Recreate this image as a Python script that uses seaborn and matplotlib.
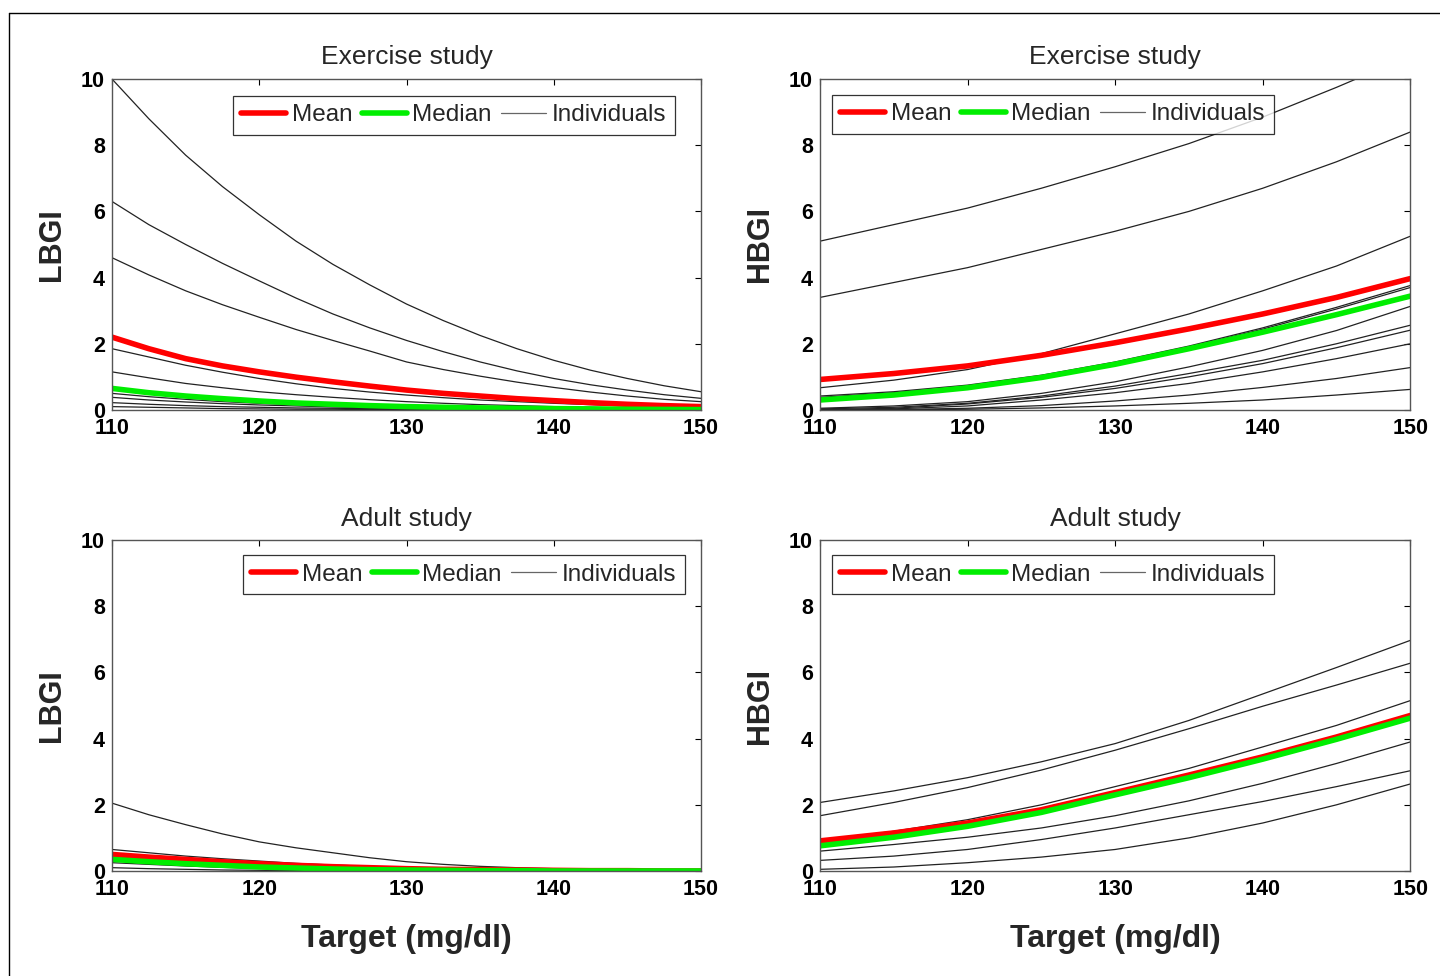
import numpy as np
import pandas as pd
import matplotlib.pyplot as plt
from matplotlib.lines import Line2D
import seaborn as sns

# target glucose grids (mg/dl)
target_fine = [110, 112.5, 115, 117.5, 120, 122.5, 125, 127.5, 130,
               132.5, 135, 137.5, 140, 142.5, 145, 147.5, 150]
target = [110, 115, 120, 125, 130, 135, 140, 145, 150]

# Exercise study - LBGI (on target_fine)
ex_lbgi_ind = [
    [10.0, 8.8, 7.7, 6.75, 5.9, 5.1, 4.4, 3.78, 3.2, 2.7, 2.25, 1.85, 1.5, 1.2, 0.95, 0.73, 0.55],
    [6.3, 5.6, 5.0, 4.43, 3.9, 3.38, 2.9, 2.48, 2.1, 1.76, 1.45, 1.18, 0.95, 0.76, 0.6, 0.46, 0.35],
    [4.6, 4.08, 3.6, 3.18, 2.8, 2.43, 2.1, 1.78, 1.45, 1.22, 1.02, 0.84, 0.68, 0.54, 0.42, 0.32, 0.25],
    [1.85, 1.6, 1.35, 1.14, 0.95, 0.79, 0.65, 0.54, 0.45, 0.37, 0.3, 0.25, 0.2, 0.16, 0.12, 0.09, 0.07],
    [1.15, 0.97, 0.8, 0.67, 0.55, 0.46, 0.38, 0.31, 0.25, 0.2, 0.16, 0.13, 0.1, 0.08, 0.06, 0.045, 0.03],
    [0.5, 0.4, 0.32, 0.25, 0.2, 0.16, 0.12, 0.09, 0.07, 0.05, 0.04, 0.03, 0.02, 0.015, 0.01, 0.005, 0.0],
    [0.38, 0.3, 0.24, 0.19, 0.15, 0.12, 0.09, 0.07, 0.05, 0.04, 0.03, 0.02, 0.01, 0.01, 0.0, 0.0, 0.0],
    [0.22, 0.17, 0.13, 0.1, 0.08, 0.06, 0.05, 0.04, 0.03, 0.02, 0.01, 0.01, 0.0, 0.0, 0.0, 0.0, 0.0],
    [0.1, 0.08, 0.06, 0.04, 0.03, 0.02, 0.02, 0.01, 0.01, 0.0, 0.0, 0.0, 0.0, 0.0, 0.0, 0.0, 0.0],
]
ex_lbgi_mean = [2.2, 1.85, 1.55, 1.33, 1.15, 0.99, 0.85, 0.72, 0.6, 0.5, 0.42, 0.34, 0.28, 0.22, 0.17, 0.13, 0.1]
ex_lbgi_median = [0.65, 0.52, 0.42, 0.34, 0.27, 0.21, 0.17, 0.13, 0.1, 0.08, 0.06, 0.05, 0.04, 0.03, 0.02, 0.015, 0.01]

# Exercise study - HBGI (on target)
ex_hbgi_ind = [
    [5.1, 5.6, 6.1, 6.7, 7.35, 8.05, 8.85, 9.75, 10.7],
    [3.4, 3.85, 4.3, 4.85, 5.4, 6.0, 6.7, 7.5, 8.4],
    [0.67, 0.9, 1.22, 1.7, 2.3, 2.9, 3.6, 4.35, 5.25],
    [0.42, 0.55, 0.75, 1.05, 1.45, 1.93, 2.48, 3.1, 3.76],
    [0.38, 0.52, 0.72, 1.02, 1.42, 1.9, 2.44, 3.05, 3.7],
    [0.05, 0.12, 0.25, 0.5, 0.85, 1.3, 1.8, 2.4, 3.13],
    [0.03, 0.08, 0.2, 0.42, 0.72, 1.1, 1.5, 2.0, 2.56],
    [0.0, 0.05, 0.18, 0.38, 0.65, 1.0, 1.4, 1.88, 2.41],
    [0.0, 0.03, 0.12, 0.3, 0.52, 0.8, 1.15, 1.55, 2.0],
    [0.0, 0.01, 0.05, 0.13, 0.27, 0.45, 0.68, 0.95, 1.28],
    [0.0, 0.0, 0.02, 0.06, 0.12, 0.2, 0.3, 0.45, 0.62],
]
ex_hbgi_mean = [0.92, 1.1, 1.33, 1.65, 2.03, 2.45, 2.9, 3.4, 3.97]
ex_hbgi_median = [0.3, 0.45, 0.67, 0.98, 1.38, 1.85, 2.35, 2.88, 3.44]

# Adult study - LBGI (on target_fine)
ad_lbgi_ind = [
    [2.05, 1.7, 1.4, 1.12, 0.88, 0.7, 0.55, 0.4, 0.28, 0.2, 0.14, 0.1, 0.07, 0.05, 0.03, 0.02, 0.01],
    [0.65, 0.55, 0.45, 0.37, 0.3, 0.23, 0.18, 0.14, 0.1, 0.07, 0.05, 0.04, 0.03, 0.02, 0.01, 0.0, 0.0],
    [0.45, 0.37, 0.3, 0.24, 0.18, 0.14, 0.1, 0.08, 0.06, 0.04, 0.03, 0.02, 0.01, 0.0, 0.0, 0.0, 0.0],
    [0.25, 0.2, 0.15, 0.11, 0.08, 0.06, 0.04, 0.03, 0.02, 0.01, 0.01, 0.0, 0.0, 0.0, 0.0, 0.0, 0.0],
    [0.1, 0.07, 0.05, 0.03, 0.02, 0.01, 0.01, 0.0, 0.0, 0.0, 0.0, 0.0, 0.0, 0.0, 0.0, 0.0, 0.0],
]
ad_lbgi_mean = [0.5, 0.42, 0.35, 0.28, 0.22, 0.17, 0.13, 0.1, 0.07, 0.05, 0.04, 0.03, 0.02, 0.01, 0.01, 0.0, 0.0]
ad_lbgi_median = [0.35, 0.28, 0.22, 0.17, 0.12, 0.09, 0.06, 0.04, 0.03, 0.02, 0.01, 0.01, 0.0, 0.0, 0.0, 0.0, 0.0]

# Adult study - HBGI (on target)
ad_hbgi_ind = [
    [2.07, 2.42, 2.82, 3.3, 3.85, 4.55, 5.35, 6.15, 6.97],
    [1.67, 2.07, 2.52, 3.05, 3.65, 4.3, 4.98, 5.62, 6.28],
    [0.91, 1.2, 1.55, 2.0, 2.55, 3.1, 3.75, 4.4, 5.15],
    [0.85, 1.1, 1.4, 1.8, 2.33, 2.86, 3.42, 4.02, 4.66],
    [0.6, 0.8, 1.02, 1.3, 1.67, 2.12, 2.65, 3.25, 3.9],
    [0.32, 0.45, 0.65, 0.95, 1.3, 1.7, 2.1, 2.55, 3.03],
    [0.05, 0.12, 0.25, 0.42, 0.65, 1.0, 1.45, 2.0, 2.63],
]
ad_hbgi_mean = [0.91, 1.15, 1.45, 1.85, 2.37, 2.9, 3.45, 4.05, 4.7]
ad_hbgi_median = [0.76, 1.02, 1.35, 1.77, 2.3, 2.82, 3.38, 3.98, 4.62]

panels = [
    ('Exercise study', 'LBGI', target_fine, ex_lbgi_ind, ex_lbgi_mean, ex_lbgi_median, (0.205, 0.949)),
    ('Exercise study', 'HBGI', target, ex_hbgi_ind, ex_hbgi_mean, ex_hbgi_median, (0.02, 0.952)),
    ('Adult study', 'LBGI', target_fine, ad_lbgi_ind, ad_lbgi_mean, ad_lbgi_median, (0.222, 0.955)),
    ('Adult study', 'HBGI', target, ad_hbgi_ind, ad_hbgi_mean, ad_hbgi_median, (0.02, 0.955)),
]

sns.set_style('white')
plt.rcParams['font.family'] = ['Liberation Sans', 'DejaVu Sans']

fig = plt.figure(figsize=(14.4, 9.76), dpi=100)

# axes positions (figure fractions)
positions = [
    [0.0778, 0.580, 0.409, 0.339],
    [0.5694, 0.580, 0.410, 0.339],
    [0.0778, 0.1076, 0.409, 0.339],
    [0.5694, 0.1076, 0.410, 0.339],
]

for i, (title, ylab, xs, ind, mean, median, leg_pos) in enumerate(panels):
    ax = fig.add_axes(positions[i])
    for curve in ind:
        sns.lineplot(x=xs, y=curve, ax=ax, color='#222222', lw=0.9)
    sns.lineplot(x=xs, y=mean, ax=ax, color='#ff0000', lw=4)
    sns.lineplot(x=xs, y=median, ax=ax, color='#00ee00', lw=4)

    ax.set_xlim(110, 150)
    ax.set_ylim(0, 10)
    ax.set_xticks([110, 120, 130, 140, 150])
    ax.set_yticks([0, 2, 4, 6, 8, 10])
    ax.tick_params(direction='in', length=4, width=0.8, top=True, right=True,
                   labelsize=15.5, colors='black')
    ax.tick_params(axis='x', pad=6)
    ax.tick_params(axis='y', pad=5)
    for lab in ax.get_xticklabels() + ax.get_yticklabels():
        lab.set_fontweight('bold')
    for sp in ax.spines.values():
        sp.set_visible(True)
        sp.set_color('#555555')
        sp.set_linewidth(1.0)

    ax.set_title(title, fontsize=19, pad=10.5)
    ax.set_ylabel(ylab, fontsize=22, fontweight='bold', labelpad=10)
    if i >= 2:
        ax.set_xlabel('Target (mg/dl)', fontsize=23, fontweight='bold', labelpad=17)

    handles = [
        Line2D([], [], color='#ff0000', lw=4),
        Line2D([], [], color='#00ee00', lw=4),
        Line2D([], [], color='#666666', lw=0.9),
    ]
    leg = ax.legend(handles, ['Mean', 'Median', 'Individuals'], loc='upper left',
                    bbox_to_anchor=leg_pos, borderaxespad=0, ncol=3,
                    fontsize=17.5, handlelength=1.85, handletextpad=0.22,
                    columnspacing=0.4, frameon=True, fancybox=False,
                    borderpad=0.35)
    leg.get_frame().set_edgecolor('black')
    leg.get_frame().set_linewidth(0.9)

# outer frame border of the figure
fig.add_artist(Line2D([0.00625, 0.00625], [0.0, 0.9867], color='black', lw=1.0,
                      transform=fig.transFigure))
fig.add_artist(Line2D([0.00625, 1.0], [0.9867, 0.9867], color='black', lw=1.0,
                      transform=fig.transFigure))

fig.savefig('out.png', dpi=100)
